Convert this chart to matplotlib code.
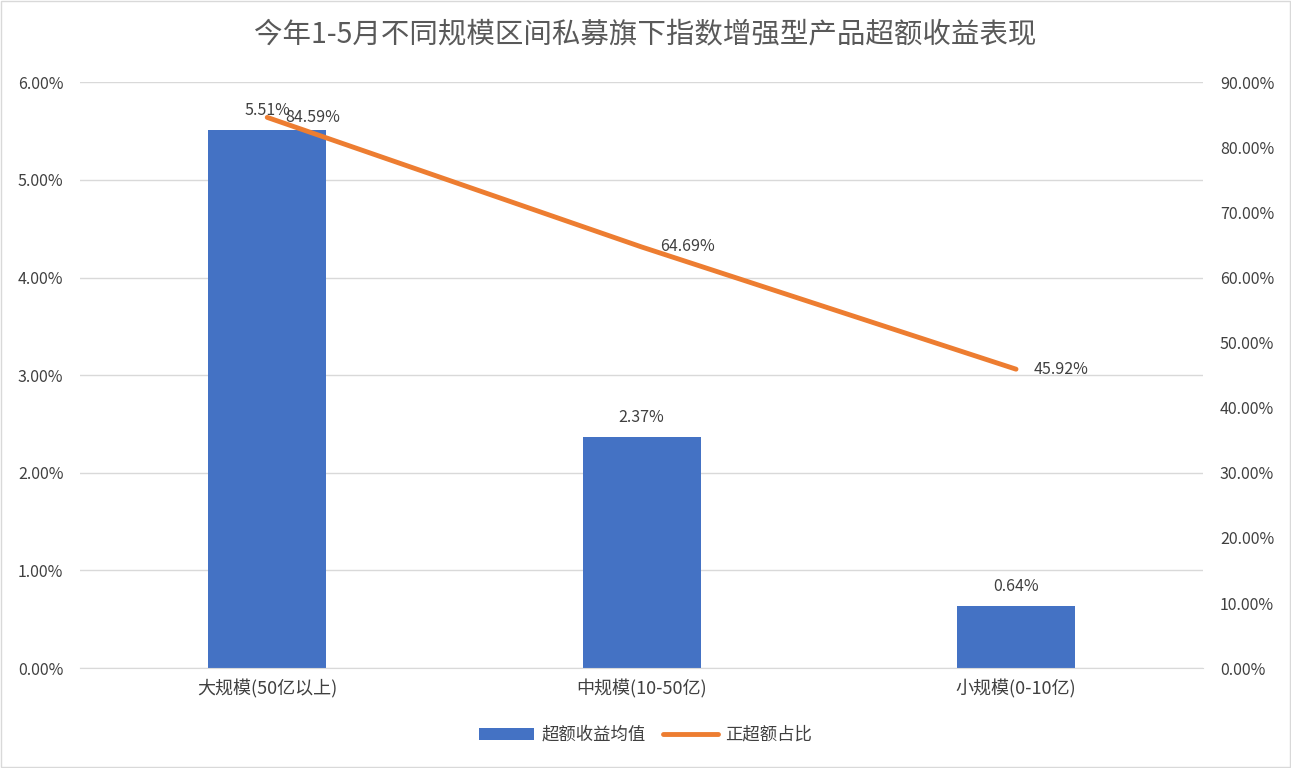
import matplotlib
matplotlib.use('Agg')
import matplotlib.pyplot as plt
from matplotlib.ticker import FuncFormatter
from matplotlib.patches import Rectangle

plt.rcParams['font.family'] = ['Noto Sans CJK SC', 'DejaVu Sans']

# 数据
categories = ['大规模(50亿以上)', '中规模(10-50亿)', '小规模(0-10亿)']
excess_mean = [5.51, 2.37, 0.64]       # 超额收益均值 (%)
positive_ratio = [84.59, 64.69, 45.92]  # 正超额占比 (%)

bar_color = '#4472C4'
line_color = '#ED7D31'
text_color = '#404040'
grid_color = '#D9D9D9'

fig = plt.figure(figsize=(12.91, 7.68), dpi=100)
ax = fig.add_axes([0.062, 0.130, 0.870, 0.763])
ax2 = ax.twinx()

x = list(range(len(categories)))
bars = ax.bar(x, excess_mean, width=0.315, color=bar_color, label='超额收益均值', zorder=2)
ax.set_xlim(-0.5, 2.5)
ax.set_ylim(0, 6)
ax.set_yticks([0, 1, 2, 3, 4, 5, 6])
ax.yaxis.set_major_formatter(FuncFormatter(lambda v, p: f'{v:.2f}%'))
ax.grid(axis='y', color=grid_color, linewidth=1, zorder=0)
ax.set_axisbelow(True)
ax.set_xticks(x)
ax.set_xticklabels(categories)

line, = ax2.plot(x, positive_ratio, color=line_color, linewidth=3.5,
                 solid_capstyle='round', label='正超额占比', zorder=3)
ax2.set_ylim(0, 90)
ax2.set_yticks(range(0, 91, 10))
ax2.yaxis.set_major_formatter(FuncFormatter(lambda v, p: f'{v:.2f}%'))

for a in (ax, ax2):
    for s in a.spines.values():
        s.set_visible(False)
    a.tick_params(length=0, labelsize=11.5, colors=text_color)
ax.spines['bottom'].set_visible(True)
ax.spines['bottom'].set_color(grid_color)
ax.tick_params(axis='x', pad=8, labelsize=13)
ax.tick_params(axis='y', pad=12)
ax2.tick_params(axis='y', pad=12)

for xi, v in zip(x, excess_mean):
    ax.annotate(f'{v:.2f}%', (xi, v), xytext=(0, 8), textcoords='offset points',
                ha='center', va='bottom', fontsize=11.5, color=text_color)
for xi, v in zip(x, positive_ratio):
    ax2.annotate(f'{v:.2f}%', (xi, v), xytext=(13, 0), textcoords='offset points',
                 ha='left', va='center', fontsize=11.5, color=text_color, zorder=4)

fig.suptitle('今年1-5月不同规模区间私募旗下指数增强型产品超额收益表现',
             y=0.975, fontsize=20.5, color='#595959')

fig.legend(handles=[bars, line], loc='center', bbox_to_anchor=(0.5, 0.043), ncol=2,
           frameon=False, fontsize=12.5, handlelength=3.2, columnspacing=1.0,
           handletextpad=0.4, labelcolor=text_color)

fig.patches.append(Rectangle((0.001, 0.001), 0.998, 0.998, transform=fig.transFigure,
                             fill=False, edgecolor='#D9D9D9', linewidth=1))

fig.savefig('out.png', dpi=100)
